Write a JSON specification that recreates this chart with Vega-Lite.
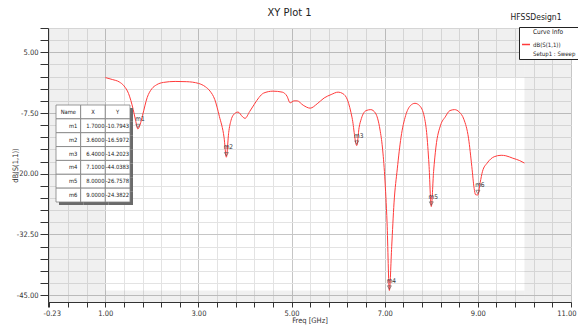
{
  "$schema": "https://vega.github.io/schema/vega-lite/v6.json",
  "autosize": {"type": "none"},
  "width": 523,
  "height": 274,
  "padding": {"left": 48, "top": 28, "right": 7, "bottom": 23},
  "background": "#ffffff",
  "title": {"text": "XY Plot 1", "fontSize": 11, "fontWeight": "normal", "color": "#222222", "anchor": "middle", "frame": "group", "dx": -20, "offset": -16, "baseline": "bottom"},
  "datasets": {
    "curve": [
      {"freq": 1.0, "db": -0.2}, {"freq": 1.15, "db": -0.6}, {"freq": 1.3, "db": -1.1}, {"freq": 1.4, "db": -1.9},
      {"freq": 1.5, "db": -3.5}, {"freq": 1.6, "db": -6.8}, {"freq": 1.65, "db": -9.0}, {"freq": 1.7, "db": -10.7943},
      {"freq": 1.75, "db": -9.8}, {"freq": 1.8, "db": -8.0}, {"freq": 1.9, "db": -4.3}, {"freq": 2.0, "db": -2.5},
      {"freq": 2.1, "db": -1.7}, {"freq": 2.25, "db": -1.2}, {"freq": 2.5, "db": -1.0}, {"freq": 2.75, "db": -1.05},
      {"freq": 3.0, "db": -1.4}, {"freq": 3.15, "db": -2.1}, {"freq": 3.25, "db": -3.0}, {"freq": 3.35, "db": -4.7},
      {"freq": 3.45, "db": -8.2}, {"freq": 3.55, "db": -12.5}, {"freq": 3.6, "db": -16.5972}, {"freq": 3.65, "db": -11.5},
      {"freq": 3.7, "db": -9.0}, {"freq": 3.75, "db": -7.9}, {"freq": 3.85, "db": -7.3}, {"freq": 3.95, "db": -8.3},
      {"freq": 4.0, "db": -8.6}, {"freq": 4.1, "db": -7.2}, {"freq": 4.2, "db": -5.7}, {"freq": 4.3, "db": -4.3},
      {"freq": 4.4, "db": -3.4}, {"freq": 4.6, "db": -3.0}, {"freq": 4.8, "db": -3.2}, {"freq": 4.9, "db": -4.0},
      {"freq": 4.97, "db": -5.4}, {"freq": 5.05, "db": -5.0}, {"freq": 5.12, "db": -5.0}, {"freq": 5.25, "db": -5.9},
      {"freq": 5.4, "db": -6.5}, {"freq": 5.55, "db": -5.6}, {"freq": 5.7, "db": -4.4}, {"freq": 5.85, "db": -3.7},
      {"freq": 6.0, "db": -3.2}, {"freq": 6.1, "db": -3.5}, {"freq": 6.2, "db": -4.8}, {"freq": 6.3, "db": -8.5},
      {"freq": 6.4, "db": -14.2023}, {"freq": 6.45, "db": -10.5}, {"freq": 6.5, "db": -8.6}, {"freq": 6.6, "db": -7.0},
      {"freq": 6.7, "db": -6.8}, {"freq": 6.8, "db": -7.5}, {"freq": 6.9, "db": -11.0}, {"freq": 6.95, "db": -14.5},
      {"freq": 7.0, "db": -20.5}, {"freq": 7.05, "db": -30.0}, {"freq": 7.1, "db": -44.0383}, {"freq": 7.15, "db": -35.0},
      {"freq": 7.2, "db": -26.0}, {"freq": 7.27, "db": -19.0}, {"freq": 7.35, "db": -12.5}, {"freq": 7.45, "db": -8.0},
      {"freq": 7.55, "db": -6.0}, {"freq": 7.65, "db": -5.5}, {"freq": 7.75, "db": -6.0}, {"freq": 7.85, "db": -8.3},
      {"freq": 7.9, "db": -11.5}, {"freq": 7.95, "db": -18.0}, {"freq": 8.0, "db": -26.7578}, {"freq": 8.05, "db": -19.5},
      {"freq": 8.1, "db": -14.5}, {"freq": 8.2, "db": -10.0}, {"freq": 8.3, "db": -8.3}, {"freq": 8.4, "db": -7.0},
      {"freq": 8.5, "db": -6.8}, {"freq": 8.6, "db": -7.3}, {"freq": 8.7, "db": -8.8}, {"freq": 8.8, "db": -12.7},
      {"freq": 8.87, "db": -18.5}, {"freq": 8.92, "db": -23.0}, {"freq": 8.95, "db": -24.3}, {"freq": 9.0, "db": -24.3822},
      {"freq": 9.05, "db": -21.8}, {"freq": 9.1, "db": -19.5}, {"freq": 9.2, "db": -17.8}, {"freq": 9.35, "db": -16.5},
      {"freq": 9.5, "db": -16.2}, {"freq": 9.6, "db": -16.3}, {"freq": 9.75, "db": -16.8}, {"freq": 9.9, "db": -17.3},
      {"freq": 10.0, "db": -17.8}
    ],
    "markers": [
      {"name": "m1", "freq": 1.7, "db": -10.7943},
      {"name": "m2", "freq": 3.6, "db": -16.5972},
      {"name": "m3", "freq": 6.4, "db": -14.2023},
      {"name": "m4", "freq": 7.1, "db": -44.0383},
      {"name": "m5", "freq": 8.0, "db": -26.7578},
      {"name": "m6", "freq": 9.0, "db": -24.3822}
    ],
    "header": [
      {"row": "hdr", "key": "name", "label": "Name"},
      {"row": "hdr", "key": "freq", "label": "X"},
      {"row": "hdr", "key": "db", "label": "Y"}
    ]
  },
  "resolve": {"scale": {"x": "independent", "y": "independent"}, "axis": {"x": "independent", "y": "independent"}},
  "layer": [
    {
      "layer": [
        {
          "data": {"name": "curve"},
          "transform": [{"aggregate": [{"op": "min", "field": "freq", "as": "fmin"}, {"op": "max", "field": "freq", "as": "fmax"}]}],
          "mark": {"type": "rect", "fill": "#000000", "fillOpacity": 0.058},
          "encoding": {
            "x": {"field": "fmin", "type": "quantitative", "title": "Freq [GHz]", "scale": {"domain": [-0.23, 11], "nice": false, "zero": false}},
            "x2": {"datum": -0.23}
          }
        },
        {
          "data": {"name": "curve"},
          "transform": [{"aggregate": [{"op": "min", "field": "freq", "as": "fmin"}, {"op": "max", "field": "freq", "as": "fmax"}]}],
          "mark": {"type": "rect", "fill": "#000000", "fillOpacity": 0.058},
          "encoding": {
            "x": {"field": "fmax", "type": "quantitative", "title": "Freq [GHz]"},
            "x2": {"datum": 11}
          }
        },
        {
          "data": {"name": "curve"},
          "transform": [{"aggregate": [{"op": "min", "field": "freq", "as": "fmin"}, {"op": "max", "field": "freq", "as": "fmax"}, {"op": "min", "field": "db", "as": "dbmin"}, {"op": "max", "field": "db", "as": "dbmax"}]}],
          "mark": {"type": "rect", "fill": "#000000", "fillOpacity": 0.058},
          "encoding": {
            "x": {"field": "fmin", "type": "quantitative", "title": "Freq [GHz]"},
            "x2": {"field": "fmax"},
            "y": {"field": "dbmax", "type": "quantitative", "title": "dB(S(1,1))", "scale": {"domain": [-46.4, 10], "nice": false, "zero": false}},
            "y2": {"datum": 10}
          }
        },
        {
          "data": {"name": "curve"},
          "transform": [{"aggregate": [{"op": "min", "field": "freq", "as": "fmin"}, {"op": "max", "field": "freq", "as": "fmax"}, {"op": "min", "field": "db", "as": "dbmin"}, {"op": "max", "field": "db", "as": "dbmax"}]}],
          "mark": {"type": "rect", "fill": "#000000", "fillOpacity": 0.058},
          "encoding": {
            "x": {"field": "fmin", "type": "quantitative", "title": "Freq [GHz]"},
            "x2": {"field": "fmax"},
            "y": {"field": "dbmin", "type": "quantitative", "title": "dB(S(1,1))"},
            "y2": {"datum": -46.4}
          }
        },
        {
          "data": {"name": "curve"},
          "mark": {"type": "line", "strokeWidth": 1, "interpolate": "monotone"},
          "encoding": {
            "x": {
              "field": "freq", "type": "quantitative", "title": "Freq [GHz]",
              "scale": {"domain": [-0.23, 11], "nice": false, "zero": false},
              "axis": {
                "values": [-0.23, -0.2, 0.2, 0.6, 1.0, 1.4, 1.8, 2.2, 2.6, 3.0, 3.4, 3.8, 4.2, 4.6, 5.0, 5.4, 5.8, 6.2, 6.6, 7.0, 7.4, 7.8, 8.2, 8.6, 9.0, 9.4, 9.8, 10.2, 10.6, 11.0],
                "tickCount": 100,
                "labelExpr": "indexof([-0.23, 1, 3, 5, 7, 9, 11], datum.value) >= 0 ? format(datum.value, '.2f') : ''",
                "labelOverlap": false, "labelFlush": true, "labelFlushOffset": 5,
                "grid": true,
                "gridColor": {"condition": {"test": "indexof([1, 3, 5, 7, 9, 11], datum.value) >= 0", "value": "#c6c6c6"}, "value": "#e3e3e3"},
                "tickSize": 5, "tickColor": "#333333", "domainColor": "#333333",
                "labelFontSize": 7.5, "labelColor": "#333333", "labelPadding": 2,
                "titleFontSize": 7.5, "titleFontWeight": "normal", "titleColor": "#333333", "titlePadding": 0
              }
            },
            "y": {
              "field": "db", "type": "quantitative", "title": "dB(S(1,1))",
              "scale": {"domain": [-46.4, 10], "nice": false, "zero": false},
              "axis": {
                "values": [10, 7.5, 5, 2.5, 0, -2.5, -5, -7.5, -10, -12.5, -15, -17.5, -20, -22.5, -25, -27.5, -30, -32.5, -35, -37.5, -40, -42.5, -45],
                "tickCount": 100,
                "labelExpr": "indexof([5, -7.5, -20, -32.5, -45], datum.value) >= 0 ? format(datum.value, '.2f') : ''",
                "labelOverlap": false, "labelFlush": false,
                "grid": true,
                "gridColor": {"condition": {"test": "indexof([5, -7.5, -20, -32.5, -45], datum.value) >= 0", "value": "#c6c6c6"}, "value": "#e3e3e3"},
                "tickSize": 8, "tickColor": "#333333", "domainColor": "#333333",
                "labelFontSize": 7.5, "labelColor": "#333333", "labelPadding": 2,
                "titleFontSize": 7.5, "titleFontWeight": "normal", "titleColor": "#333333", "titlePadding": -3
              }
            },
            "stroke": {
              "datum": "dB(S(1,1))", "type": "nominal",
              "scale": {"domain": ["dB(S(1,1))", "Setup1 : Sweep"], "range": ["#ff3b3b", "#ffffff"]},
              "legend": {
                "orient": "none", "legendX": 471, "legendY": -1,
                "title": "Curve Info", "titleAnchor": "middle", "titleFontSize": 6.5, "titleFontWeight": "normal", "titleColor": "#222222", "titlePadding": 4,
                "strokeColor": "#222222", "fillColor": "#ffffff", "padding": 2, "rowPadding": 1,
                "symbolType": "stroke", "symbolStrokeWidth": 1.5, "symbolSize": 64, "labelOffset": 2,
                "labelFontSize": 6, "labelColor": "#222222"
              }
            }
          }
        },
        {
          "data": {"name": "markers"},
          "mark": {"type": "point", "shape": "triangle-down", "size": 16, "filled": false, "stroke": "#444444", "strokeWidth": 0.8, "yOffset": -3},
          "encoding": {
            "x": {"field": "freq", "type": "quantitative", "title": "Freq [GHz]"},
            "y": {"field": "db", "type": "quantitative", "title": "dB(S(1,1))"}
          }
        },
        {
          "data": {"name": "markers"},
          "mark": {"type": "text", "fontSize": 6.5, "color": "#333333", "dx": 2, "dy": -10},
          "encoding": {
            "x": {"field": "freq", "type": "quantitative", "title": "Freq [GHz]"},
            "y": {"field": "db", "type": "quantitative", "title": "dB(S(1,1))"},
            "text": {"field": "name"}
          }
        },
        {
          "data": {"values": [{"label": "HFSSDesign1"}]},
          "mark": {"type": "text", "fontSize": 8.5, "color": "#222222"},
          "encoding": {
            "x": {"datum": 10.25, "type": "quantitative", "title": "Freq [GHz]"},
            "y": {"datum": 12.3, "type": "quantitative", "title": "dB(S(1,1))"},
            "text": {"field": "label"}
          }
        }
      ]
    },
    {
      "layer": [
        {
          "data": {"name": "header"},
          "mark": {"type": "rect", "fill": "#6a6a6a", "xOffset": 3, "yOffset": 3},
          "encoding": {
            "x": {"field": "key", "type": "nominal", "axis": null, "scale": {"type": "band", "domain": ["name", "freq", "db"], "range": [8, 82], "paddingInner": 0, "paddingOuter": 0}},
            "y": {"field": "row", "type": "nominal", "axis": null, "scale": {"type": "band", "domain": ["hdr", "m1", "m2", "m3", "m4", "m5", "m6"], "range": [77, 174], "paddingInner": 0, "paddingOuter": 0}}
          }
        },
        {
          "data": {"name": "markers"},
          "transform": [{"fold": ["name", "freq", "db"]}],
          "mark": {"type": "rect", "fill": "#6a6a6a", "xOffset": 3, "yOffset": 3},
          "encoding": {
            "x": {"field": "key", "type": "nominal", "axis": null},
            "y": {"field": "name", "type": "nominal", "axis": null}
          }
        },
        {
          "data": {"name": "header"},
          "mark": {"type": "rect", "fill": "#ffffff", "stroke": "#808080", "strokeWidth": 0.8},
          "encoding": {
            "x": {"field": "key", "type": "nominal", "axis": null},
            "y": {"field": "row", "type": "nominal", "axis": null}
          }
        },
        {
          "data": {"name": "markers"},
          "transform": [{"fold": ["name", "freq", "db"]}],
          "mark": {"type": "rect", "fill": "#ffffff", "stroke": "#808080", "strokeWidth": 0.8},
          "encoding": {
            "x": {"field": "key", "type": "nominal", "axis": null},
            "y": {"field": "name", "type": "nominal", "axis": null}
          }
        },
        {
          "data": {"name": "header"},
          "mark": {"type": "text", "fontSize": 5.8, "color": "#222222"},
          "encoding": {
            "x": {"field": "key", "type": "nominal", "axis": null},
            "y": {"field": "row", "type": "nominal", "axis": null},
            "text": {"field": "label"}
          }
        },
        {
          "data": {"name": "markers"},
          "transform": [{"fold": ["name"]}],
          "mark": {"type": "text", "fontSize": 5.8, "color": "#222222", "align": "right", "dx": 9},
          "encoding": {
            "x": {"field": "key", "type": "nominal", "axis": null},
            "y": {"field": "name", "type": "nominal", "axis": null},
            "text": {"field": "name"}
          }
        },
        {
          "data": {"name": "markers"},
          "transform": [{"fold": ["freq"]}],
          "mark": {"type": "text", "fontSize": 5.8, "color": "#222222", "align": "right", "dx": 11.5},
          "encoding": {
            "x": {"field": "key", "type": "nominal", "axis": null},
            "y": {"field": "name", "type": "nominal", "axis": null},
            "text": {"field": "freq", "format": ".4f"}
          }
        },
        {
          "data": {"name": "markers"},
          "transform": [{"fold": ["db"]}],
          "mark": {"type": "text", "fontSize": 5.8, "color": "#222222", "align": "right", "dx": 11.5},
          "encoding": {
            "x": {"field": "key", "type": "nominal", "axis": null},
            "y": {"field": "name", "type": "nominal", "axis": null},
            "text": {"field": "db", "format": ".4f"}
          }
        }
      ]
    }
  ],
  "config": {
    "font": "Liberation Sans Narrow, Arial Narrow, DejaVu Sans Condensed, Liberation Sans, Arial, sans-serif",
    "view": {"stroke": "#9a9a9a", "fill": "#ffffff"},
    "locale": {"number": {"decimal": ".", "thousands": ",", "grouping": [3], "currency": ["$", ""], "minus": "-"}}
  }
}
